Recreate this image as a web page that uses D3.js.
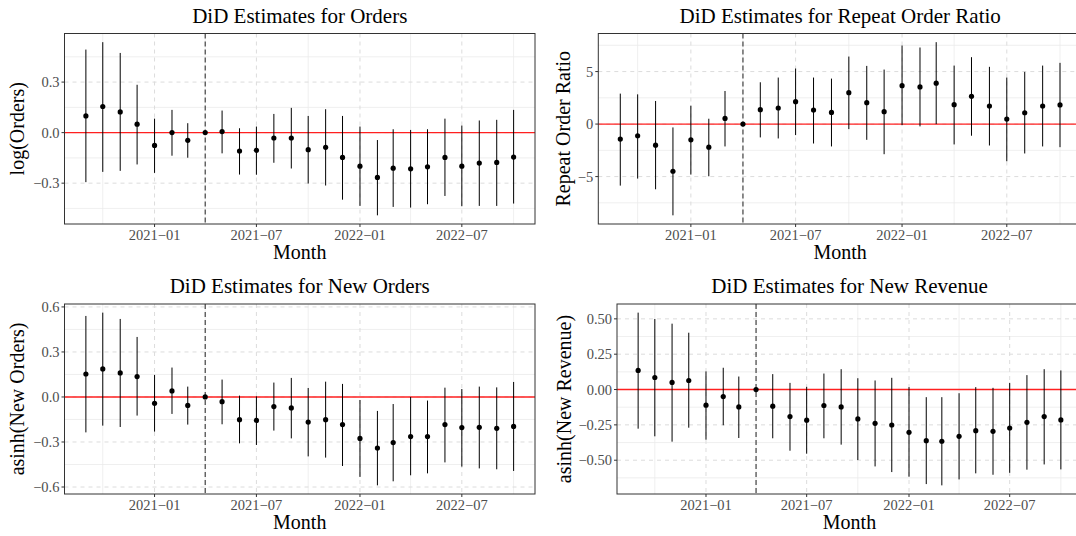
<!doctype html>
<html lang='en'>
<head>
  <meta charset='UTF-8'>
  <title>DiD Estimates</title>
  <style>
    html, body { margin: 0; padding: 0; background: #fff; overflow: hidden; }
    svg { display: block; font-family: 'Liberation Serif', serif; }
    .tick-label { fill: #4d4d4d; font-size: 14.5px; }
    .panel-title { fill: #000; font-size: 21px; }
    .axis-title { fill: #000; font-size: 20px; }
  </style>
</head>
<body>
<script src='https://d3js.org/d3.v7.min.js'></script>
<script>
  // months of the event study, 2021-04 is the reference period
  const months = ['2020-09', '2020-10', '2020-11', '2020-12', '2021-01', '2021-02', '2021-03', '2021-04',
    '2021-05', '2021-06', '2021-07', '2021-08', '2021-09', '2021-10', '2021-11', '2021-12',
    '2022-01', '2022-02', '2022-03', '2022-04', '2022-05', '2022-06', '2022-07', '2022-08', '2022-09', '2022-10']
  const refMonth = '2021-04'
  const xMajor = ['2021-01', '2021-07', '2022-01', '2022-07']
  const xMajorLabels = ['2021−01', '2021−07', '2022−01', '2022−07']
  const xMinor = ['2020-10', '2021-04', '2021-10', '2022-04', '2022-10']

  const ordersEst = [0.099, 0.155, 0.123, 0.050, -0.076, 0.000, -0.046, 0, 0.006, -0.109, -0.105, -0.032, -0.032,
    -0.101, -0.087, -0.147, -0.199, -0.266, -0.211, -0.215, -0.203, -0.147, -0.199, -0.181, -0.177, -0.145]
  const ordersLo = [-0.294, -0.233, -0.227, -0.189, -0.239, -0.137, -0.149, 0, -0.123, -0.249, -0.250, -0.179, -0.213,
    -0.302, -0.314, -0.398, -0.435, -0.491, -0.441, -0.445, -0.425, -0.376, -0.437, -0.435, -0.435, -0.421]
  const ordersHi = [0.493, 0.537, 0.473, 0.284, 0.083, 0.135, 0.056, 0, 0.131, 0.026, 0.036, 0.111, 0.147,
    0.099, 0.139, 0.099, 0.036, -0.044, 0.020, 0.016, 0.020, 0.083, 0.042, 0.072, 0.076, 0.135]

  const repeatEst = [-1.43, -1.11, -2.01, -4.49, -1.50, -2.20, 0.54, 0, 1.37, 1.53, 2.13, 1.34, 1.11,
    2.99, 2.04, 1.18, 3.66, 3.54, 3.89, 1.85, 2.64, 1.72, 0.48, 1.08, 1.72, 1.82]
  const repeatLo = [-5.86, -5.19, -6.21, -8.69, -4.81, -4.97, -2.13, 0, -1.27, -1.37, -1.05, -1.85, -2.13,
    -0.48, -1.50, -2.87, -0.10, -0.22, 0.00, -1.94, -1.11, -2.04, -3.54, -2.80, -2.13, -2.20]
  const repeatHi = [2.90, 2.83, 2.20, -0.32, 1.75, 0.51, 3.15, 0, 3.98, 4.43, 5.29, 4.43, 4.33,
    6.43, 5.54, 5.19, 7.48, 7.29, 7.80, 5.57, 6.37, 5.45, 4.43, 4.97, 5.57, 5.83]

  const newOrdEst = [0.153, 0.187, 0.160, 0.136, -0.042, 0.040, -0.056, 0, -0.031, -0.151, -0.156, -0.064, -0.073,
    -0.167, -0.151, -0.184, -0.276, -0.340, -0.304, -0.264, -0.264, -0.184, -0.204, -0.202, -0.209, -0.196]
  const newOrdLo = [-0.236, -0.191, -0.200, -0.124, -0.231, -0.113, -0.184, 0, -0.182, -0.309, -0.320, -0.224, -0.276,
    -0.396, -0.404, -0.460, -0.533, -0.589, -0.562, -0.522, -0.509, -0.436, -0.464, -0.476, -0.482, -0.493]
  const newOrdHi = [0.540, 0.562, 0.520, 0.400, 0.147, 0.196, 0.069, 0, 0.116, 0.009, 0.004, 0.096, 0.127,
    0.060, 0.102, 0.087, -0.020, -0.093, -0.047, 0.000, -0.024, 0.062, 0.053, 0.069, 0.064, 0.100]

  const newRevEst = [0.135, 0.085, 0.050, 0.064, -0.111, -0.050, -0.123, 0, -0.118, -0.191, -0.217, -0.113, -0.123,
    -0.208, -0.239, -0.251, -0.303, -0.362, -0.366, -0.331, -0.291, -0.296, -0.272, -0.232, -0.191, -0.215]
  const newRevLo = [-0.277, -0.331, -0.369, -0.270, -0.355, -0.253, -0.343, 0, -0.345, -0.433, -0.454, -0.345, -0.390,
    -0.499, -0.544, -0.584, -0.617, -0.669, -0.678, -0.636, -0.593, -0.603, -0.589, -0.567, -0.530, -0.565]
  const newRevHi = [0.544, 0.499, 0.466, 0.402, 0.128, 0.154, 0.092, 0, 0.109, 0.047, 0.019, 0.113, 0.144,
    0.080, 0.064, 0.083, 0.017, -0.054, -0.054, -0.026, 0.017, 0.012, 0.047, 0.102, 0.144, 0.135]

  const ordersTicks = [-0.3, 0, 0.3]
  const ordersTickLabels = ['−0.3', '0.0', '0.3']
  const repeatTicks = [-5, 0, 5]
  const repeatTickLabels = ['−5', '0', '5']
  const newOrdTicks = [-0.6, -0.3, 0, 0.3, 0.6]
  const newOrdTickLabels = ['−0.6', '−0.3', '0.0', '0.3', '0.6']
  const newRevTicks = [-0.5, -0.25, 0, 0.25, 0.5]
  const newRevTickLabels = ['−0.50', '−0.25', '0.00', '0.25', '0.50']

  const W = 1076
  const H = 536
  const parseMonth = d3.utcParse('%Y-%m')

  const svg = d3.select('body')
    .append('svg')
    .attr('width', W)
    .attr('height', H)

  const panels = [
    { title: 'DiD Estimates for Orders', ylab: 'log(Orders)', est: ordersEst, lo: ordersLo, hi: ordersHi,
      ticks: ordersTicks, labels: ordersTickLabels, box: { l: 64.5, r: 535, t: 33.5, b: 224 }, ylabX: 17 },
    { title: 'DiD Estimates for Repeat Order Ratio', ylab: 'Repeat Order Ratio', est: repeatEst, lo: repeatLo, hi: repeatHi,
      ticks: repeatTicks, labels: repeatTickLabels, box: { l: 598.3, r: 1082, t: 33.5, b: 224 }, ylabX: 563 },
    { title: 'DiD Estimates for New Orders', ylab: 'asinh(New Orders)', est: newOrdEst, lo: newOrdLo, hi: newOrdHi,
      ticks: newOrdTicks, labels: newOrdTickLabels, box: { l: 64.5, r: 535, t: 304, b: 494 }, ylabX: 17 },
    { title: 'DiD Estimates for New Revenue', ylab: 'asinh(New Revenue)', est: newRevEst, lo: newRevLo, hi: newRevHi,
      ticks: newRevTicks, labels: newRevTickLabels, box: { l: 617, r: 1082, t: 304, b: 494 }, ylabX: 564 }
  ]

  // ggplot style 5% expansion
  const expand = function(lo, hi) {
    const pad = (hi - lo) * 0.05
    return [lo - pad, hi + pad]
  }

  const drawPanel = function(p) {
    const b = p.box
    const dates = months.map(parseMonth)
    const xd = expand(+dates[0], +dates[dates.length - 1])
    const x = d3.scaleUtc()
      .domain([new Date(xd[0]), new Date(xd[1])])
      .range([b.l, b.r])
    const yd = expand(d3.min(p.lo), d3.max(p.hi))
    const y = d3.scaleLinear()
      .domain(yd)
      .range([b.b, b.t])

    const g = svg.append('g')

    g.append('rect')
      .attr('x', b.l).attr('y', b.t)
      .attr('width', b.r - b.l).attr('height', b.b - b.t)
      .attr('fill', '#fff')

    // minor grid
    const step = p.ticks[1] - p.ticks[0]
    const yMinor = d3.range(p.ticks[0] - step * 1.5, p.ticks[p.ticks.length - 1] + step, step)
      .filter(v => v >= yd[0] && v <= yd[1])
    g.selectAll('.ymin')
      .data(yMinor)
      .enter()
      .append('line')
      .attr('x1', b.l).attr('x2', b.r)
      .attr('y1', d => y(d)).attr('y2', d => y(d))
      .attr('stroke', '#ebebeb').attr('stroke-width', 0.8)
    g.selectAll('.xmin')
      .data(xMinor)
      .enter()
      .append('line')
      .attr('x1', d => x(parseMonth(d))).attr('x2', d => x(parseMonth(d)))
      .attr('y1', b.t).attr('y2', b.b)
      .attr('stroke', '#ebebeb').attr('stroke-width', 0.8)

    // major grid (dashed)
    g.selectAll('.ymaj')
      .data(p.ticks)
      .enter()
      .append('line')
      .attr('x1', b.l).attr('x2', b.r)
      .attr('y1', d => y(d)).attr('y2', d => y(d))
      .attr('stroke', '#dcdcdc').attr('stroke-width', 1)
      .attr('stroke-dasharray', '4,4')
    g.selectAll('.xmaj')
      .data(xMajor)
      .enter()
      .append('line')
      .attr('x1', d => x(parseMonth(d))).attr('x2', d => x(parseMonth(d)))
      .attr('y1', b.t).attr('y2', b.b)
      .attr('stroke', '#dcdcdc').attr('stroke-width', 1)
      .attr('stroke-dasharray', '4,4')

    // zero line and reference month
    g.append('line')
      .attr('x1', b.l).attr('x2', b.r)
      .attr('y1', y(0)).attr('y2', y(0))
      .attr('stroke', '#ff2020').attr('stroke-width', 1.4)
    g.append('line')
      .attr('x1', x(parseMonth(refMonth))).attr('x2', x(parseMonth(refMonth)))
      .attr('y1', b.t).attr('y2', b.b)
      .attr('stroke', '#333').attr('stroke-width', 1.1)
      .attr('stroke-dasharray', '5,3')

    // error bars and points
    g.selectAll('.bar')
      .data(months)
      .enter()
      .append('line')
      .attr('x1', d => x(parseMonth(d))).attr('x2', d => x(parseMonth(d)))
      .attr('y1', (d, i) => y(p.lo[i])).attr('y2', (d, i) => y(p.hi[i]))
      .attr('stroke', '#000').attr('stroke-width', 1)
    g.selectAll('.pt')
      .data(months)
      .enter()
      .append('circle')
      .attr('cx', d => x(parseMonth(d)))
      .attr('cy', (d, i) => y(p.est[i]))
      .attr('r', 2.6)
      .attr('fill', '#000')

    // border
    g.append('rect')
      .attr('x', b.l).attr('y', b.t)
      .attr('width', b.r - b.l).attr('height', b.b - b.t)
      .attr('fill', 'none').attr('stroke', '#333').attr('stroke-width', 1)

    // y ticks
    p.ticks.forEach((v, i) => {
      g.append('line')
        .attr('x1', b.l - 3).attr('x2', b.l)
        .attr('y1', y(v)).attr('y2', y(v))
        .attr('stroke', '#333')
      g.append('text')
        .attr('class', 'tick-label')
        .attr('x', b.l - 5)
        .attr('y', y(v))
        .attr('dy', '0.35em')
        .attr('text-anchor', 'end')
        .text(p.labels[i])
    })

    // x ticks
    xMajor.forEach((m, i) => {
      const xx = x(parseMonth(m))
      g.append('line')
        .attr('x1', xx).attr('x2', xx)
        .attr('y1', b.b).attr('y2', b.b + 3)
        .attr('stroke', '#333')
      g.append('text')
        .attr('class', 'tick-label')
        .attr('x', xx)
        .attr('y', b.b + 16)
        .attr('text-anchor', 'middle')
        .text(xMajorLabels[i])
    })

    const cx = (b.l + b.r) / 2
    g.append('text')
      .attr('class', 'panel-title')
      .attr('x', cx)
      .attr('y', b.t - 11)
      .attr('text-anchor', 'middle')
      .text(p.title)

    g.append('text')
      .attr('class', 'axis-title')
      .attr('x', cx)
      .attr('y', b.b + 35)
      .attr('text-anchor', 'middle')
      .text('Month')

    g.append('text')
      .attr('class', 'axis-title')
      .attr('transform', `translate(${p.ylabX},${(b.t + b.b) / 2}) rotate(-90)`)
      .attr('dy', '0.35em')
      .attr('text-anchor', 'middle')
      .text(p.ylab)
  }

  panels.forEach(drawPanel)
</script>
</body>
</html>
